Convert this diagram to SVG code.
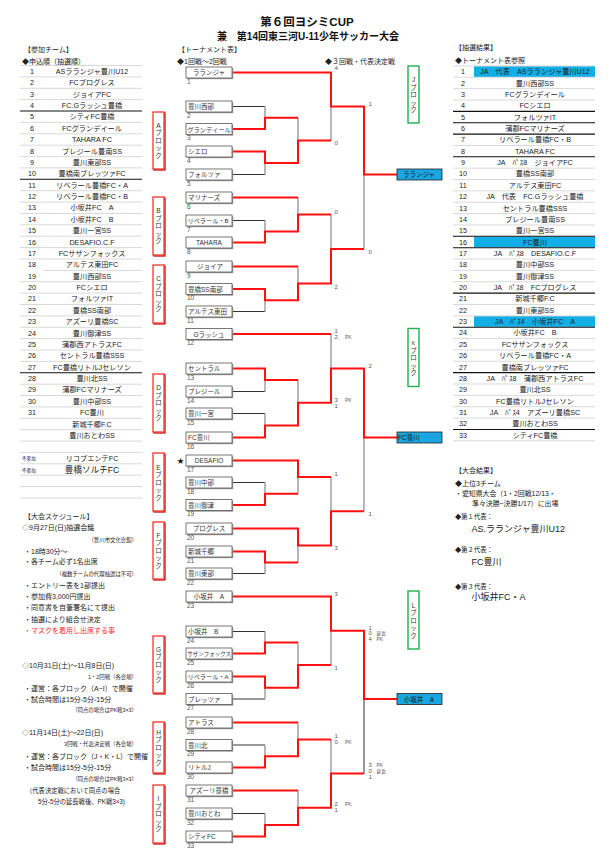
<svg xmlns="http://www.w3.org/2000/svg" width="613" height="861" viewBox="0 0 613 861">
<style>
text{font-family:"Liberation Sans","Noto Sans CJK JP",sans-serif;fill:#222}
.ttl{font-weight:bold;fill:#111}
.h{font-size:7px}
.h6{font-size:6.3px}
.tb{font-size:7.2px}
.c{text-anchor:middle}
.e{text-anchor:end}
.sm{font-size:5.4px}
.sm7{font-size:6.9px}
.bl{font-size:6.5px;fill:#333}
.bl62{font-size:6.2px}
.bl54{font-size:5.5px}
.num{font-size:6.5px;fill:#555}
.sc{font-size:6px;fill:#556}
.pk{font-size:4.8px;fill:#556}
.blk{font-size:6.5px;fill:#333;text-anchor:middle}
.res{font-size:9px;fill:#222}
.bx{fill:#fff;stroke:#555;stroke-width:0.8}
.sh{fill:#999}
.rb{fill:#fff;stroke:#ff3030;stroke-width:1.3}
.rbs{fill:none;stroke:#b00000;stroke-width:1.2}
.gb{fill:#fff;stroke:#22b050;stroke-width:1.4}
.win{fill:#1aa6e2;stroke:#222;stroke-width:0.8}
.hl{fill:#12aee8}
.lg{fill:none;stroke:#c8c8c8;stroke-width:0.7}
.lk{fill:none;stroke:#111;stroke-width:1.1}
.red{fill:none;stroke:#ff1010;stroke-width:2}
.gry{fill:none;stroke:#9a9a9a;stroke-width:1.4}
.drk{fill:none;stroke:#333;stroke-width:1}
</style>

<g id="title">
<text class="ttl c" x="307" y="26" style="font-size:11.5px">第６回ヨシミCUP</text>
<text class="ttl c" x="308" y="40" style="font-size:10px">兼　第14回東三河U-11少年サッカー大会</text>
</g>

<g id="entry-table">
<text class="h" x="24" y="52">【参加チーム】</text>
<text class="h" x="22" y="63.5">◆申込順（抽選順）</text>
<path class="lg" d="M20,65.5H142M20,76.9H142M20,88.3H142M20,99.6H142M20,122.4H142M20,133.8H142M20,145.2H142M20,156.6H142M20,167.9H142M20,190.7H142M20,202.1H142M20,213.5H142M20,224.8H142M20,236.2H142M20,247.6H142M20,259H142M43,270.4H142M20,281.7H142M20,293.1H142M20,304.5H142M20,315.9H142M20,327.3H142M20,338.6H142M20,350H142M20,361.4H142M20,384.2H142M20,395.5H142M20,406.9H142M20,418.3H142M20,429.7H142M20,441.1H142M20,452.4H142M20,463.8H142M20,475.2H142M20,486.6H142M20,498H142"/>
<path class="lk" d="M20,111H142M20,179.3H142M20,372.8H142"/>
<g class="tb">
<text class="c" x="32" y="73.8">1</text><text class="c" x="92" y="73.8">ASラランジャ豊川U12</text>
<text class="c" x="32" y="85.2">2</text><text class="c" x="92" y="85.2">FCプログレス</text>
<text class="c" x="32" y="96.6">3</text><text class="c" x="92" y="96.6">ジョイアFC</text>
<text class="c" x="32" y="107.9">4</text><text class="c" x="92" y="107.9">FC.Gラッシュ豊橋</text>
<text class="c" x="32" y="119.3">5</text><text class="c" x="92" y="119.3">シティFC豊橋</text>
<text class="c" x="32" y="130.7">6</text><text class="c" x="92" y="130.7">FCグランデイール</text>
<text class="c" x="32" y="142.1">7</text><text class="c" x="92" y="142.1">TAHARA FC</text>
<text class="c" x="32" y="153.5">8</text><text class="c" x="92" y="153.5">プレジール豊南SS</text>
<text class="c" x="32" y="164.8">9</text><text class="c" x="92" y="164.8">豊川東部SS</text>
<text class="c" x="32" y="176.2">10</text><text class="c" x="92" y="176.2">豊橋南プレッツァFC</text>
<text class="c" x="32" y="187.6">11</text><text class="c" x="92" y="187.6">リベラール豊橋FC・A</text>
<text class="c" x="32" y="199">12</text><text class="c" x="92" y="199">リベラール豊橋FC・B</text>
<text class="c" x="32" y="210.4">13</text><text class="c" x="92" y="210.4">小坂井FC　A</text>
<text class="c" x="32" y="221.7">14</text><text class="c" x="92" y="221.7">小坂井FC　B</text>
<text class="c" x="32" y="233.1">15</text><text class="c" x="92" y="233.1">豊川一宮SS</text>
<text class="c" x="32" y="244.5">16</text><text class="c" x="92" y="244.5">DESAFIO.C.F</text>
<text class="c" x="32" y="255.9">17</text><text class="c" x="92" y="255.9">FCサザンフォックス</text>
<text class="c" x="32" y="267.3">18</text><text class="c" x="92" y="267.3">アルテス東田FC</text>
<text class="c" x="32" y="278.6">19</text><text class="c" x="92" y="278.6">豊川西部SS</text>
<text class="c" x="32" y="290">20</text><text class="c" x="92" y="290">FCシエロ</text>
<text class="c" x="32" y="301.4">21</text><text class="c" x="92" y="301.4">フォルツァIT</text>
<text class="c" x="32" y="312.8">22</text><text class="c" x="92" y="312.8">豊橋SS南部</text>
<text class="c" x="32" y="324.2">23</text><text class="c" x="92" y="324.2">アズーリ豊橋SC</text>
<text class="c" x="32" y="335.5">24</text><text class="c" x="92" y="335.5">豊川御津SS</text>
<text class="c" x="32" y="346.9">25</text><text class="c" x="92" y="346.9">蒲郡西アトラスFC</text>
<text class="c" x="32" y="358.3">26</text><text class="c" x="92" y="358.3">セントラル豊橋SSS</text>
<text class="c" x="32" y="369.7">27</text><text class="c" x="92" y="369.7">FC豊橋リトルJセレソン</text>
<text class="c" x="32" y="381.1">28</text><text class="c" x="92" y="381.1">豊川北SS</text>
<text class="c" x="32" y="392.4">29</text><text class="c" x="92" y="392.4">蒲郡FCマリナーズ</text>
<text class="c" x="32" y="403.8">30</text><text class="c" x="92" y="403.8">豊川中部SS</text>
<text class="c" x="32" y="415.2">31</text><text class="c" x="92" y="415.2">FC豊川</text>
<text class="c" x="92" y="426.6">新城千郷F.C</text>
<text class="c" x="92" y="438">豊川おとわSS</text>
<text class="c" x="92" y="460.7">リコプエンテFC</text>
<text class="c" x="92" y="472.5" style="font-size:8.6px">豊橋ソルチFC</text>
</g>
<text x="22" y="460.3" style="font-size:4.6px">不参加</text>
<text x="22" y="471.7" style="font-size:4.6px">不参加</text>
</g>

<g id="schedule">
<text class="h" x="24" y="518.5">【大会スケジュール】</text>
<text class="h" x="22" y="530.2">◇9月27日(日)抽選会議</text>
<text class="sm e" x="137" y="541.5">（豊川市文化会館）</text>
<text class="h" x="24" y="553.5">・18時30分～</text>
<text class="h" x="24" y="564.2">・各チーム必ず1名出席</text>
<text class="sm e" x="137" y="575.5">（複数チームの代理抽選は不可）</text>
<text class="h" x="24" y="587.5">・エントリー表を1部提出</text>
<text class="h" x="24" y="598.8">・参加費3,000円提出</text>
<text class="h" x="24" y="610.2">・同意書を自筆署名にて提出</text>
<text class="h" x="24" y="621.5">・抽選により組合せ決定</text>
<text class="h" x="24" y="633.2" style="fill:#ff2a2a">・マスクを着用し出席する事</text>
<text class="h" x="22" y="668.2">◇10月31日(土)～11月8日(日)</text>
<text class="sm e" x="137" y="678.5">1・2回戦（各会場）</text>
<text class="h" x="24" y="690.8">・運営：各ブロック（A~I）で開催</text>
<text class="h" x="24" y="701.8">・試合時間は15分-5分-15分</text>
<text class="sm e" x="137" y="712.3">（同点の場合はPK戦3×3）</text>
<text class="h" x="22" y="735.2">◇11月14日(土)～22日(日)</text>
<text class="sm e" x="137" y="745.8">3回戦・代表決定戦（各会場）</text>
<text class="h" x="24" y="758.5">・運営：各ブロック（J・K・L）で開催</text>
<text class="h" x="24" y="769.8">・試合時間は15分-5分-15分</text>
<text class="sm e" x="137" y="780.6">（同点の場合はPK戦3×3）</text>
<text class="h6" x="26" y="792.5">（代表決定戦において同点の場合</text>
<text class="h6" x="38" y="804.2">5分-5分の延長戦後、PK戦3×3)</text>
</g>

<g id="block-labels">
<g id="blk-A"><rect class="rbs" x="154" y="113" width="11" height="57"/><rect class="rb" x="153" y="112" width="11" height="57"/><text class="blk"><tspan x="158.5" y="127.8">A</tspan><tspan x="158.5" y="135.3">ブ</tspan><tspan x="158.5" y="142.8">ロ</tspan><tspan x="158.5" y="150.3">ッ</tspan><tspan x="158.5" y="157.8">ク</tspan></text></g>
<g id="blk-B"><rect class="rbs" x="154" y="198" width="11" height="58"/><rect class="rb" x="153" y="197" width="11" height="58"/><text class="blk"><tspan x="158.5" y="213.3">B</tspan><tspan x="158.5" y="220.8">ブ</tspan><tspan x="158.5" y="228.3">ロ</tspan><tspan x="158.5" y="235.8">ッ</tspan><tspan x="158.5" y="243.3">ク</tspan></text></g>
<g id="blk-C"><rect class="rbs" x="154" y="266" width="11" height="58"/><rect class="rb" x="153" y="265" width="11" height="58"/><text class="blk"><tspan x="158.5" y="281.3">C</tspan><tspan x="158.5" y="288.8">ブ</tspan><tspan x="158.5" y="296.3">ロ</tspan><tspan x="158.5" y="303.8">ッ</tspan><tspan x="158.5" y="311.3">ク</tspan></text></g>
<g id="blk-D"><rect class="rbs" x="154" y="375" width="11" height="58"/><rect class="rb" x="153" y="374" width="11" height="58"/><text class="blk"><tspan x="158.5" y="390.3">D</tspan><tspan x="158.5" y="397.8">ブ</tspan><tspan x="158.5" y="405.3">ロ</tspan><tspan x="158.5" y="412.8">ッ</tspan><tspan x="158.5" y="420.3">ク</tspan></text></g>
<g id="blk-E"><rect class="rbs" x="154" y="454" width="11" height="58"/><rect class="rb" x="153" y="453" width="11" height="58"/><text class="blk"><tspan x="158.5" y="469.8">E</tspan><tspan x="158.5" y="477.3">ブ</tspan><tspan x="158.5" y="484.8">ロ</tspan><tspan x="158.5" y="492.3">ッ</tspan><tspan x="158.5" y="499.8">ク</tspan></text></g>
<g id="blk-F"><rect class="rbs" x="154" y="523" width="11" height="57"/><rect class="rb" x="153" y="522" width="11" height="57"/><text class="blk"><tspan x="158.5" y="537.8">F</tspan><tspan x="158.5" y="545.3">ブ</tspan><tspan x="158.5" y="552.8">ロ</tspan><tspan x="158.5" y="560.3">ッ</tspan><tspan x="158.5" y="567.8">ク</tspan></text></g>
<g id="blk-G"><rect class="rbs" x="154" y="637" width="11" height="57"/><rect class="rb" x="153" y="636" width="11" height="57"/><text class="blk"><tspan x="158.5" y="651.8">G</tspan><tspan x="158.5" y="659.3">ブ</tspan><tspan x="158.5" y="666.8">ロ</tspan><tspan x="158.5" y="674.3">ッ</tspan><tspan x="158.5" y="681.8">ク</tspan></text></g>
<g id="blk-H"><rect class="rbs" x="154" y="723" width="11" height="51"/><rect class="rb" x="153" y="722" width="11" height="51"/><text class="blk"><tspan x="158.5" y="734.8">H</tspan><tspan x="158.5" y="742.3">ブ</tspan><tspan x="158.5" y="749.8">ロ</tspan><tspan x="158.5" y="757.3">ッ</tspan><tspan x="158.5" y="764.8">ク</tspan></text></g>
<g id="blk-I"><rect class="rbs" x="154" y="786" width="11" height="58"/><rect class="rb" x="153" y="785" width="11" height="58"/><text class="blk"><tspan x="158.5" y="801.3">I</tspan><tspan x="158.5" y="808.8">ブ</tspan><tspan x="158.5" y="816.3">ロ</tspan><tspan x="158.5" y="823.8">ッ</tspan><tspan x="158.5" y="831.3">ク</tspan></text></g>
<g id="blk-J"><rect class="gb" x="408" y="66" width="11" height="57"/><text class="blk"><tspan x="413.5" y="82">J</tspan><tspan x="413.5" y="89.5">ブ</tspan><tspan x="413.5" y="97">ロ</tspan><tspan x="413.5" y="104.5">ッ</tspan><tspan x="413.5" y="112">ク</tspan></text></g>
<g id="blk-K"><rect class="gb" x="408" y="328.5" width="11" height="58"/><text class="blk"><tspan x="413.5" y="345" style="font-size:5px">K</tspan><tspan x="413.5" y="352.5">ブ</tspan><tspan x="413.5" y="360">ロ</tspan><tspan x="413.5" y="367.5">ッ</tspan><tspan x="413.5" y="375">ク</tspan></text></g>
<g id="blk-L"><rect class="gb" x="408" y="591" width="11" height="58"/><text class="blk"><tspan x="413.5" y="607.5">L</tspan><tspan x="413.5" y="615">ブ</tspan><tspan x="413.5" y="622.5">ロ</tspan><tspan x="413.5" y="630">ッ</tspan><tspan x="413.5" y="637.5">ク</tspan></text></g>
</g>

<g id="bracket-headers">
<text class="h" x="178" y="52">【トーナメント表】</text>
<text class="h" x="177" y="63.5">◆1回戦～2回戦</text>
<text class="h" x="325" y="63.5">◆３回戦・代表決定戦</text>
</g>

<g id="connectors">
<path class="drk" d="M232,106.5H265M232,174.5H265M232,220.5H265M232,311.5H265M232,391.5H265M232,413.5H265M232,482.5H265M232,573.5H265M232,631.5H265M232,699H265M232,745H265M232,813.5H265M364,699V773.6"/>
<path class="gry" d="M265,106.5V117.75M265,163V174.5M298,117.75V140.4M331,106.45V140.4M265,220.5V231.5M298,197.5V214.5M265,300.25V311.5M298,266.5V283.4M331,214.5V249M364,174.5V249M265,380V391.5M265,413.5V425.5M298,380V402.75M331,334V368.4M265,482.5V493.75M298,477.1V493.75M265,562.5V573.5M298,545.5V562.5M331,477.1V511.3M364,437.5V511.3M265,631.5V642.5M265,687.75V699M298,642.5V665.1M331,630.8V665.1M298,722.5V739.4M265,745V756.25M265,813.5V825M298,790.5V807.75M331,739.4V773.6"/>
<path class="red" d="M232,72.5H331V106.45H364V174.5H397"/>
<path class="red" d="M232,129H265V117.75H298"/>
<path class="red" d="M232,151.5H265V163H298V140.4H331"/>
<path class="red" d="M232,197.5H298"/>
<path class="red" d="M232,242.5H265V231.5H298V214.5H331"/>
<path class="red" d="M232,266.5H298"/>
<path class="red" d="M232,289H265V300.25H298V283.4H331V249H364"/>
<path class="red" d="M232,334H331"/>
<path class="red" d="M232,368.5H265V380H298"/>
<path class="red" d="M232,437.5H265V425.5H298V402.75H331V368.4H364V437.5H397"/>
<path class="red" d="M232,460.5H298V477.1H331"/>
<path class="red" d="M232,505H265V493.75H298"/>
<path class="red" d="M232,528.5H298V545.5H331V511.3H364"/>
<path class="red" d="M232,551.5H265V562.5H298"/>
<path class="red" d="M232,596.5H331V630.8H364V699H397"/>
<path class="red" d="M232,653.5H265V642.5H298"/>
<path class="red" d="M232,676.5H265V687.75H298V665.1H331"/>
<path class="red" d="M232,722.5H298"/>
<path class="red" d="M232,767.5H265V756.25H298V739.4H331"/>
<path class="red" d="M232,790.5H298"/>
<path class="red" d="M232,836.5H265V825H298V807.75H331V773.6H364"/>
</g>

<g id="scores">
<text class="sc" x="334.5" y="70">4</text>
<text class="sc" x="334.5" y="145">0</text>
<text class="sc" x="334.5" y="214">0</text>
<text class="sc" x="334.5" y="289">2</text>
<text class="sc" x="334.5" y="332.5">1</text>
<text class="sc" x="334.5" y="339">2</text><text class="pk" x="345" y="339">PK</text>
<text class="sc" x="334.5" y="401.7">3</text><text class="pk" x="345" y="401.7">PK</text>
<text class="sc" x="334.5" y="407.7">1</text>
<text class="sc" x="334.5" y="476">1</text>
<text class="sc" x="334.5" y="550">3</text>
<text class="sc" x="334.5" y="596">3</text>
<text class="sc" x="334.5" y="670">1</text>
<text class="sc" x="334.5" y="738">1</text>
<text class="sc" x="334.5" y="744">0</text><text class="pk" x="345" y="744">PK</text>
<text class="sc" x="334.5" y="806">2</text><text class="pk" x="345" y="806">PK</text>
<text class="sc" x="334.5" y="812">1</text>
<text class="sc" x="368.5" y="106">1</text>
<text class="sc" x="368.5" y="254">0</text>
<text class="sc" x="368.5" y="368">2</text>
<text class="sc" x="368.5" y="516">1</text>
<text class="sc" x="368.5" y="629.7">1</text>
<text class="sc" x="368.5" y="635.3">0</text><text class="pk" x="376.5" y="635.3">延長</text>
<text class="sc" x="368.5" y="641">4</text><text class="pk" x="376.5" y="641">PK</text>
<text class="sc" x="368.5" y="767">3</text><text class="pk" x="376.5" y="767">PK</text>
<text class="sc" x="368.5" y="772.7">0</text><text class="pk" x="376.5" y="772.7">延長</text>
<text class="sc" x="368.5" y="778.7">1</text>
</g>

<g id="teams">
<g id="t1"><rect class="sh" x="187.2" y="68.2" width="46" height="11"/><rect class="bx" x="186" y="67" width="46" height="11"/><text class="bl c" x="209" y="75.3">ラランジャ</text><text class="num" x="187" y="83.5">1</text></g>
<g id="t2"><rect class="sh" x="187.2" y="102.2" width="46" height="11"/><rect class="bx" x="186" y="101" width="46" height="11"/><text class="bl" x="188" y="109.3">豊川西部</text><text class="num" x="187" y="117.5">2</text></g>
<g id="t3"><rect class="sh" x="187.2" y="124.7" width="46" height="11"/><rect class="bx" x="186" y="123.5" width="46" height="11"/><text class="bl bl62" x="187.5" y="131.8">グランデイール</text><text class="num" x="187" y="140">3</text></g>
<g id="t4"><rect class="sh" x="187.2" y="147.2" width="46" height="11"/><rect class="bx" x="186" y="146" width="46" height="11"/><text class="bl" x="188" y="154.3">シエロ</text><text class="num" x="187" y="162.5">4</text></g>
<g id="t5"><rect class="sh" x="187.2" y="170.2" width="46" height="11"/><rect class="bx" x="186" y="169" width="46" height="11"/><text class="bl" x="188" y="177.3">フォルツァ</text><text class="num" x="187" y="185.5">5</text></g>
<g id="t6"><rect class="sh" x="187.2" y="193.2" width="46" height="11"/><rect class="bx" x="186" y="192" width="46" height="11"/><text class="bl" x="188" y="200.3">マリナーズ</text><text class="num" x="187" y="208.5">6</text></g>
<g id="t7"><rect class="sh" x="187.2" y="216.2" width="46" height="11"/><rect class="bx" x="186" y="215" width="46" height="11"/><text class="bl bl62" x="187.5" y="223.3">リベラール・B</text><text class="num" x="187" y="231.5">7</text></g>
<g id="t8"><rect class="sh" x="187.2" y="238.2" width="46" height="11"/><rect class="bx" x="186" y="237" width="46" height="11"/><text class="bl c" x="209" y="245.3">TAHARA</text><text class="num" x="187" y="253.5">8</text></g>
<g id="t9"><rect class="sh" x="187.2" y="262.2" width="46" height="11"/><rect class="bx" x="186" y="261" width="46" height="11"/><text class="bl c" x="210" y="269.3">ジョイア</text><text class="num" x="187" y="277.5">9</text></g>
<g id="t10"><rect class="sh" x="187.2" y="284.7" width="46" height="11"/><rect class="bx" x="186" y="283.5" width="46" height="11"/><text class="bl" x="188" y="291.8">豊橋SS南部</text><text class="num" x="187" y="300">10</text></g>
<g id="t11"><rect class="sh" x="187.2" y="307.2" width="46" height="11"/><rect class="bx" x="186" y="306" width="46" height="11"/><text class="bl" x="188" y="314.3">アルテス東田</text><text class="num" x="187" y="322.5">11</text></g>
<g id="t12"><rect class="sh" x="187.2" y="329.7" width="46" height="11"/><rect class="bx" x="186" y="328.5" width="46" height="11"/><text class="bl c" x="209" y="336.8">Gラッシュ</text><text class="num" x="187" y="345">12</text></g>
<g id="t13"><rect class="sh" x="187.2" y="364.2" width="46" height="11"/><rect class="bx" x="186" y="363" width="46" height="11"/><text class="bl" x="188" y="371.3">セントラル</text><text class="num" x="187" y="379.5">13</text></g>
<g id="t14"><rect class="sh" x="187.2" y="387.2" width="46" height="11"/><rect class="bx" x="186" y="386" width="46" height="11"/><text class="bl" x="188" y="394.3">プレジール</text><text class="num" x="187" y="402.5">14</text></g>
<g id="t15"><rect class="sh" x="187.2" y="409.2" width="46" height="11"/><rect class="bx" x="186" y="408" width="46" height="11"/><text class="bl" x="188" y="416.3">豊川一宮</text><text class="num" x="187" y="424.5">15</text></g>
<g id="t16"><rect class="sh" x="187.2" y="433.2" width="46" height="11"/><rect class="bx" x="186" y="432" width="46" height="11"/><text class="bl" x="188" y="440.3">FC豊川</text><text class="num" x="187" y="448.5">16</text></g>
<g id="t17"><text x="177" y="463" style="font-size:7px;fill:#111">★</text><rect class="sh" x="187.2" y="456.2" width="46" height="11"/><rect class="bx" x="186" y="455" width="46" height="11"/><text class="bl c" x="209" y="463.3">DESAFIO</text><text class="num" x="187" y="471.5">17</text></g>
<g id="t18"><rect class="sh" x="187.2" y="478.2" width="46" height="11"/><rect class="bx" x="186" y="477" width="46" height="11"/><text class="bl" x="188" y="485.3">豊川中部</text><text class="num" x="187" y="493.5">18</text></g>
<g id="t19"><rect class="sh" x="187.2" y="500.7" width="46" height="11"/><rect class="bx" x="186" y="499.5" width="46" height="11"/><text class="bl" x="188" y="507.8">豊川御津</text><text class="num" x="187" y="516">19</text></g>
<g id="t20"><rect class="sh" x="187.2" y="524.2" width="46" height="11"/><rect class="bx" x="186" y="523" width="46" height="11"/><text class="bl c" x="209" y="531.3">プログレス</text><text class="num" x="187" y="539.5">20</text></g>
<g id="t21"><rect class="sh" x="187.2" y="547.2" width="46" height="11"/><rect class="bx" x="186" y="546" width="46" height="11"/><text class="bl" x="188" y="554.3">新城千郷</text><text class="num" x="187" y="562.5">21</text></g>
<g id="t22"><rect class="sh" x="187.2" y="569.2" width="46" height="11"/><rect class="bx" x="186" y="568" width="46" height="11"/><text class="bl" x="188" y="576.3">豊川東部</text><text class="num" x="187" y="584.5">22</text></g>
<g id="t23"><rect class="sh" x="187.2" y="592.2" width="46" height="11"/><rect class="bx" x="186" y="591" width="46" height="11"/><text class="bl c" x="209" y="599.3">小坂井　A</text><text class="num" x="187" y="607.5">23</text></g>
<g id="t24"><rect class="sh" x="187.2" y="627.2" width="46" height="11"/><rect class="bx" x="186" y="626" width="46" height="11"/><text class="bl" x="188" y="634.3">小坂井　B</text><text class="num" x="187" y="642.5">24</text></g>
<g id="t25"><rect class="sh" x="187.2" y="649.2" width="46" height="11"/><rect class="bx" x="186" y="648" width="46" height="11"/><text class="bl bl54" x="187.3" y="656">サザンフォックス</text><text class="num" x="187" y="664.5">25</text></g>
<g id="t26"><rect class="sh" x="187.2" y="672.2" width="46" height="11"/><rect class="bx" x="186" y="671" width="46" height="11"/><text class="bl bl62" x="187.5" y="679.3">リベラール・A</text><text class="num" x="187" y="687.5">26</text></g>
<g id="t27"><rect class="sh" x="187.2" y="694.7" width="46" height="11"/><rect class="bx" x="186" y="693.5" width="46" height="11"/><text class="bl" x="188" y="701.8">プレッツァ</text><text class="num" x="187" y="710">27</text></g>
<g id="t28"><rect class="sh" x="187.2" y="718.2" width="46" height="11"/><rect class="bx" x="186" y="717" width="46" height="11"/><text class="bl" x="188" y="725.3">アトラス</text><text class="num" x="187" y="733.5">28</text></g>
<g id="t29"><rect class="sh" x="187.2" y="740.7" width="46" height="11"/><rect class="bx" x="186" y="739.5" width="46" height="11"/><text class="bl" x="188" y="747.8">豊川北</text><text class="num" x="187" y="756">29</text></g>
<g id="t30"><rect class="sh" x="187.2" y="763.2" width="46" height="11"/><rect class="bx" x="186" y="762" width="46" height="11"/><text class="bl" x="188" y="770.3">リトルJ</text><text class="num" x="187" y="778.5">30</text></g>
<g id="t31"><rect class="sh" x="187.2" y="786.2" width="46" height="11"/><rect class="bx" x="186" y="785" width="46" height="11"/><text class="bl c" x="209" y="793.3">アズーリ豊橋</text><text class="num" x="187" y="801.5">31</text></g>
<g id="t32"><rect class="sh" x="187.2" y="809.2" width="46" height="11"/><rect class="bx" x="186" y="808" width="46" height="11"/><text class="bl" x="188" y="816.3">豊川おとわ</text><text class="num" x="187" y="824.5">32</text></g>
<g id="t33"><rect class="sh" x="187.2" y="832.2" width="46" height="11"/><rect class="bx" x="186" y="831" width="46" height="11"/><text class="bl" x="188" y="839.3">シティFC</text><text class="num" x="187" y="847.5">33</text></g>
</g>

<g id="winners">
<g id="win-J"><rect class="win" x="397" y="169" width="45" height="11"/><text class="bl c" x="419" y="177.2" style="fill:#111">ラランジャ</text></g>
<g id="win-K"><rect class="win" x="397" y="432" width="45" height="11"/><text class="bl" x="398" y="440.2" style="fill:#111">FC豊川</text></g>
<g id="win-L"><rect class="win" x="397" y="693.5" width="45" height="11"/><text class="bl c" x="419" y="701.7" style="fill:#111">小坂井　A</text></g>
</g>

<g id="draw-table">
<text class="h" x="455" y="49.5">【抽選結果】</text>
<text class="h" x="455" y="62.5">◆トーナメント表参照</text>
<rect class="hl" x="474" y="66.3" width="121" height="10.6"/>
<rect class="hl" x="474" y="236.7" width="121" height="10.6"/>
<rect class="hl" x="474" y="316.2" width="121" height="10.6"/>
<path class="lg" d="M453,65.9H595M453,77.28H595M453,88.64H595M453,100H595M453,145.44H595M453,168.16H595M453,179.52H595M453,190.88H595M453,202.24H595M453,213.6H595M453,224.96H595M453,259.04H595M453,270.4H595M453,281.76H595M453,304.48H595M453,315.84H595M453,338.56H595M453,349.92H595M453,361.28H595M453,384H595M453,395.36H595M453,406.72H595M453,418.08H595M453,440.8H595"/>
<path class="lk" d="M453,111.36H595M453,122.72H595M453,134.08H595M453,156.8H595M453,236.32H595M453,247.68H595M453,293.12H595M453,327.2H595M453,372.64H595M453,429.44H595"/>
<g class="tb">
<text class="c" x="463" y="74.2">1</text><text class="c" x="535" y="74.2">JA　代表　ASラランジャ豊川U12</text>
<text class="c" x="463" y="85.56">2</text><text class="c" x="535" y="85.56">豊川西部SS</text>
<text class="c" x="463" y="96.92">3</text><text class="c" x="535" y="96.92">FCグランデイール</text>
<text class="c" x="463" y="108.28">4</text><text class="c" x="535" y="108.28">FCシエロ</text>
<text class="c" x="463" y="119.64">5</text><text class="c" x="535" y="119.64">フォルツァIT</text>
<text class="c" x="463" y="131">6</text><text class="c" x="535" y="131">蒲郡FCマリナーズ</text>
<text class="c" x="463" y="142.36">7</text><text class="c" x="535" y="142.36">リベラール豊橋FC・B</text>
<text class="c" x="463" y="153.72">8</text><text class="c" x="535" y="153.72">TAHARA FC</text>
<text class="c" x="463" y="165.08">9</text><text class="c" x="535" y="165.08">JA　ﾊﾟｽ8　ジョイアFC</text>
<text class="c" x="463" y="176.44">10</text><text class="c" x="535" y="176.44">豊橋SS南部</text>
<text class="c" x="463" y="187.8">11</text><text class="c" x="535" y="187.8">アルテス東田FC</text>
<text class="c" x="463" y="199.16">12</text><text class="c" x="535" y="199.16">JA　代表　FC.Gラッシュ豊橋</text>
<text class="c" x="463" y="210.52">13</text><text class="c" x="535" y="210.52">セントラル豊橋SSS</text>
<text class="c" x="463" y="221.88">14</text><text class="c" x="535" y="221.88">プレジール豊南SS</text>
<text class="c" x="463" y="233.24">15</text><text class="c" x="535" y="233.24">豊川一宮SS</text>
<text class="c" x="463" y="244.6">16</text><text class="c" x="535" y="244.6">FC豊川</text>
<text class="c" x="463" y="255.96">17</text><text class="c" x="535" y="255.96">JA　ﾊﾟｽ8　DESAFIO.C.F</text>
<text class="c" x="463" y="267.32">18</text><text class="c" x="535" y="267.32">豊川中部SS</text>
<text class="c" x="463" y="278.68">19</text><text class="c" x="535" y="278.68">豊川御津SS</text>
<text class="c" x="463" y="290.04">20</text><text class="c" x="535" y="290.04">JA　ﾊﾟｽ8　FCプログレス</text>
<text class="c" x="463" y="301.4">21</text><text class="c" x="535" y="301.4">新城千郷F.C</text>
<text class="c" x="463" y="312.76">22</text><text class="c" x="535" y="312.76">豊川東部SS</text>
<text class="c" x="463" y="324.12">23</text><text class="c" x="535" y="324.12">JA　ﾊﾟｽ4　小坂井FC　A</text>
<text class="c" x="463" y="335.48">24</text><text class="c" x="535" y="335.48">小坂井FC　B</text>
<text class="c" x="463" y="346.84">25</text><text class="c" x="535" y="346.84">FCサザンフォックス</text>
<text class="c" x="463" y="358.2">26</text><text class="c" x="535" y="358.2">リベラール豊橋FC・A</text>
<text class="c" x="463" y="369.56">27</text><text class="c" x="535" y="369.56">豊橋南プレッツァFC</text>
<text class="c" x="463" y="380.92">28</text><text class="c" x="535" y="380.92">JA　ﾊﾟｽ8　蒲郡西アトラスFC</text>
<text class="c" x="463" y="392.28">29</text><text class="c" x="535" y="392.28">豊川北SS</text>
<text class="c" x="463" y="403.64">30</text><text class="c" x="535" y="403.64">FC豊橋リトルJセレソン</text>
<text class="c" x="463" y="415">31</text><text class="c" x="535" y="415">JA　ﾊﾟｽ4　アズーリ豊橋SC</text>
<text class="c" x="463" y="426.36">32</text><text class="c" x="535" y="426.36">豊川おとわSS</text>
<text class="c" x="463" y="437.72">33</text><text class="c" x="535" y="437.72">シティFC豊橋</text>
</g>
</g>

<g id="results">
<text class="h" x="455" y="472.5">【大会結果】</text>
<text class="h" x="455" y="485.5">◆上位3チーム</text>
<text class="sm7" x="455" y="495.8">・愛知県大会（1・2回戦12/13・</text>
<text class="sm7" x="472" y="505.8">準々決勝~決勝1/17）に出場</text>
<text class="h6" x="455" y="519.2">◆第１代表：</text>
<text class="res" x="471.5" y="532.3">AS.ラランジャ豊川U12</text>
<text class="h6" x="455" y="551.5">◆第２代表：</text>
<text class="res" x="471.5" y="564.9">FC豊川</text>
<text class="h6" x="455" y="588.5">◆第３代表：</text>
<text class="res" x="471.5" y="599.9">小坂井FC・A</text>
</g>
</svg>
